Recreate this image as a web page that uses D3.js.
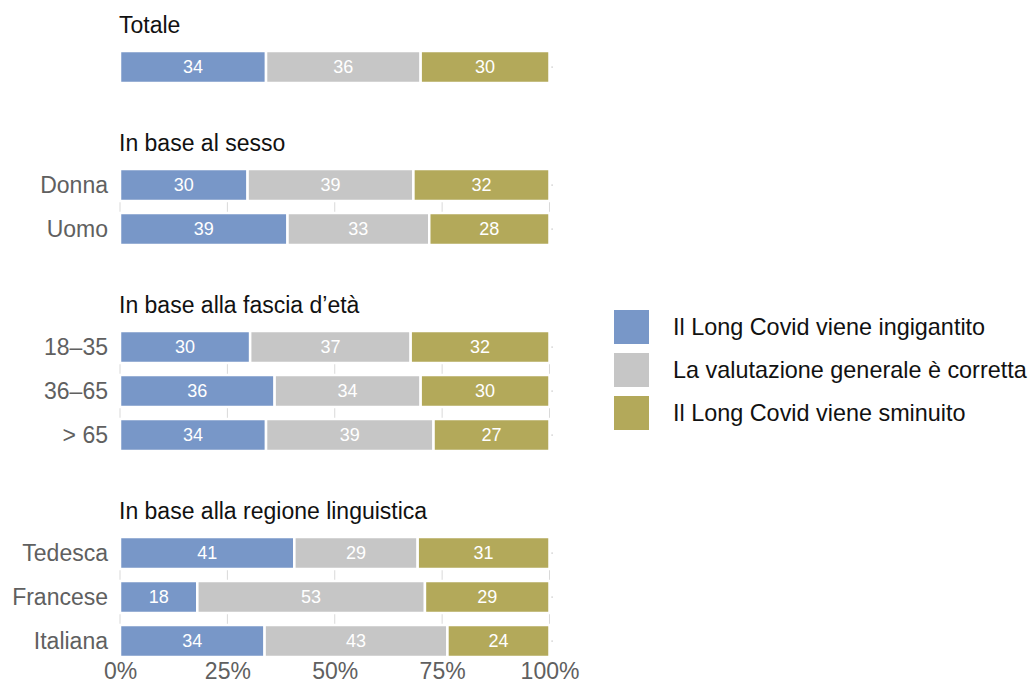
<!DOCTYPE html>
<html>
<head>
<meta charset="utf-8">
<script src="https://cdn.jsdelivr.net/npm/d3@7"></script>
<style>
  html, body { margin: 0; padding: 0; background: #fff; }
  svg { display: block; font-family: "Liberation Sans", Arial, Helvetica, sans-serif; }
</style>
</head>
<body>
<svg id="chart" width="1030" height="684"></svg>
<script>
// Survey: opinion on Long Covid coverage, shares by respondent group
const seriesNames = [
  "Il Long Covid viene ingigantito",
  "La valutazione generale è corretta",
  "Il Long Covid viene sminuito"
];
const seriesColors = ["#7897c8", "#c6c6c6", "#b3a95a"];

const groupTitles = [
  "Totale",
  "In base al sesso",
  "In base alla fascia d’età",
  "In base alla regione linguistica"
];
const rowLabels = ["", "Donna", "Uomo", "18–35", "36–65", "> 65", "Tedesca", "Francese", "Italiana"];
const rowGroup  = [0, 1, 1, 2, 2, 2, 3, 3, 3];

const ingigantito = [34, 30, 39, 30, 36, 34, 41, 18, 34];
const corretta    = [36, 39, 33, 37, 34, 39, 29, 53, 43];
const sminuito    = [30, 32, 28, 32, 30, 27, 31, 29, 24];

const tickValues = [0, 0.25, 0.5, 0.75, 1];

// ---- layout
const svg = d3.select("#chart");
const left = 120, right = 549.5;
const rowStep = 44, barH = 32, firstTop = 51;
const groupGap = 118 / rowStep - 1;   // extra slots between groups
const fontMain = 23, fontValue = 18;

const rows = rowLabels.map((label, i) => ({
  i, label, group: rowGroup[i],
  slot: i + rowGroup[i] * groupGap,
  s0: ingigantito[i], s1: corretta[i], s2: sminuito[i]
}));

const x = d3.scaleLinear().domain([0, 1]).range([left, right]);
const y = d3.scaleLinear().domain([0, 1]).range([firstTop, firstTop + rowStep]);

const stack = d3.stack().keys(["s0", "s1", "s2"]).offset(d3.stackOffsetExpand);
const stacked = stack(rows);

// vertical gridlines, spanning each group's bars
const groups = d3.groups(rows, d => d.group);
const grid = svg.append("g").attr("class", "grid");
groups.forEach(([g, rs]) => {
  const top = y(rs[0].slot), bottom = y(rs[rs.length - 1].slot) + barH;
  grid.selectAll(null).data(tickValues).join("line")
    .attr("x1", d => x(d)).attr("x2", d => x(d))
    .attr("y1", top).attr("y2", bottom)
    .attr("stroke", "#d9d9d9").attr("stroke-width", 1);
});

// small marks right of each bar
svg.append("g").selectAll("rect").data(rows).join("rect")
  .attr("x", right + 2).attr("y", d => y(d.slot) + barH / 2 - 0.5)
  .attr("width", 1.2).attr("height", 1.2).attr("fill", "#bbb");

// group titles
svg.append("g").selectAll("text").data(groups).join("text")
  .attr("x", left - 1)
  .attr("y", ([g, rs]) => y(rs[0].slot) - 18.5)
  .attr("font-size", fontMain).attr("fill", "#111")
  .text(([g]) => groupTitles[g]);

// row labels
svg.append("g").selectAll("text").data(rows).join("text")
  .attr("x", 108)
  .attr("y", d => y(d.slot) + barH / 2)
  .attr("dy", "0.36em")
  .attr("text-anchor", "end")
  .attr("font-size", fontMain).attr("fill", "#606060")
  .text(d => d.label);

// stacked bars
const layer = svg.append("g").selectAll("g").data(stacked).join("g")
  .attr("fill", (d, k) => seriesColors[k]);

layer.selectAll("rect").data(d => d).join("rect")
  .attr("x", d => x(d[0]))
  .attr("y", d => y(d.data.slot))
  .attr("width", d => x(d[1]) - x(d[0]))
  .attr("height", barH)
  .attr("stroke", "#fff").attr("stroke-width", 2.5);

// value labels
layer.selectAll("text").data((d, k) => d.map(v => ({ v, key: d.key }))).join("text")
  .attr("x", d => (x(d.v[0]) + x(d.v[1])) / 2)
  .attr("y", d => y(d.v.data.slot) + barH / 2)
  .attr("dy", "0.36em")
  .attr("text-anchor", "middle")
  .attr("font-size", fontValue).attr("fill", "#fff")
  .text(d => d.v.data[d.key]);

// x axis
const axisTop = y(rows[rows.length - 1].slot) + barH;
const axis = svg.append("g")
  .attr("transform", `translate(0, ${axisTop})`)
  .call(d3.axisBottom(x).tickValues(tickValues).tickFormat(d3.format(".0%")).tickSize(0));
axis.select(".domain").remove();
axis.selectAll("text")
  .attr("y", 679 - axisTop).attr("dy", 0)
  .attr("font-size", fontMain).attr("fill", "#606060")
  .attr("font-family", "Liberation Sans, Arial, sans-serif");

// legend
const legend = svg.append("g").attr("transform", "translate(614, 310)");
const li = legend.selectAll("g").data(seriesNames).join("g")
  .attr("transform", (d, k) => `translate(0, ${k * 43})`);
li.append("rect").attr("width", 35).attr("height", 34).attr("fill", (d, k) => seriesColors[k]);
li.append("text").attr("x", 59).attr("y", 17).attr("dy", "0.36em")
  .attr("font-size", 23.4).attr("fill", "#111").text(d => d);
</script>
</body>
</html>
